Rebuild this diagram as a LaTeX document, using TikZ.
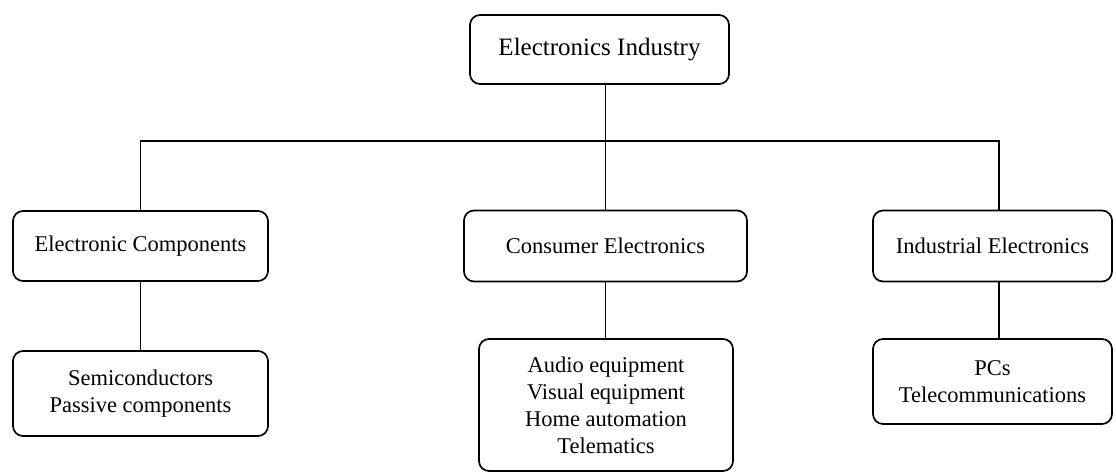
\documentclass[tikz,border=0pt]{standalone}
\usepackage{fontspec}
\setmainfont{Liberation Serif}
\begin{document}
\begin{tikzpicture}[x=1pt,y=1pt,
  orgbox/.style={draw=black, line width=1.7pt, rounded corners=10pt, fill=white,
    align=center, inner sep=0pt, font=\fontsize{22.5}{27}\selectfont},
  link/.style={draw=black, line width=1.8pt}]
  \useasboundingbox (0,0) rectangle (1116,474);
  % top level
  \node[orgbox, minimum width=259pt, minimum height=69pt, font=\fontsize{25}{30}\selectfont] (top) at (599.5,424.5) {Electronics Industry};
  % sectors
  \node[orgbox, minimum width=255pt, minimum height=70pt] (ec) at (140.5,228) {Electronic Components};
  \node[orgbox, minimum width=283pt, minimum height=71pt] (ce) at (605.5,228) {Consumer Electronics};
  \node[orgbox, minimum width=239pt, minimum height=71pt] (ie) at (992.5,228) {Industrial Electronics};
  % products
  \node[orgbox, minimum width=255pt, minimum height=85pt] (sc) at (140.5,80.5) {Semiconductors\\Passive components};
  \node[orgbox, minimum width=254pt, minimum height=132pt] (ae) at (606,69) {Audio equipment\\Visual equipment\\Home automation\\Telematics};
  \node[orgbox, minimum width=239pt, minimum height=85pt] (pc) at (992.5,92.5) {PCs\\Telecommunications};
  % bus line
  \coordinate (bus) at (605.5,333);
  \coordinate (ieTop) at ([xshift=6.5pt]ie.north);
  \coordinate (ieBot) at ([xshift=6.5pt]ie.south);
  \draw[link] (top.south -| ce.north) -- (ce.north);
  \draw[link] (ec.north) |- (bus) -| (ieTop);
  \draw[link] (ec.south) -- (sc.north);
  \draw[link] (ce.south) -- (ae.north -| ce.south);
  \draw[link] (ieBot) -- (pc.north -| ieBot);
\end{tikzpicture}
\end{document}
